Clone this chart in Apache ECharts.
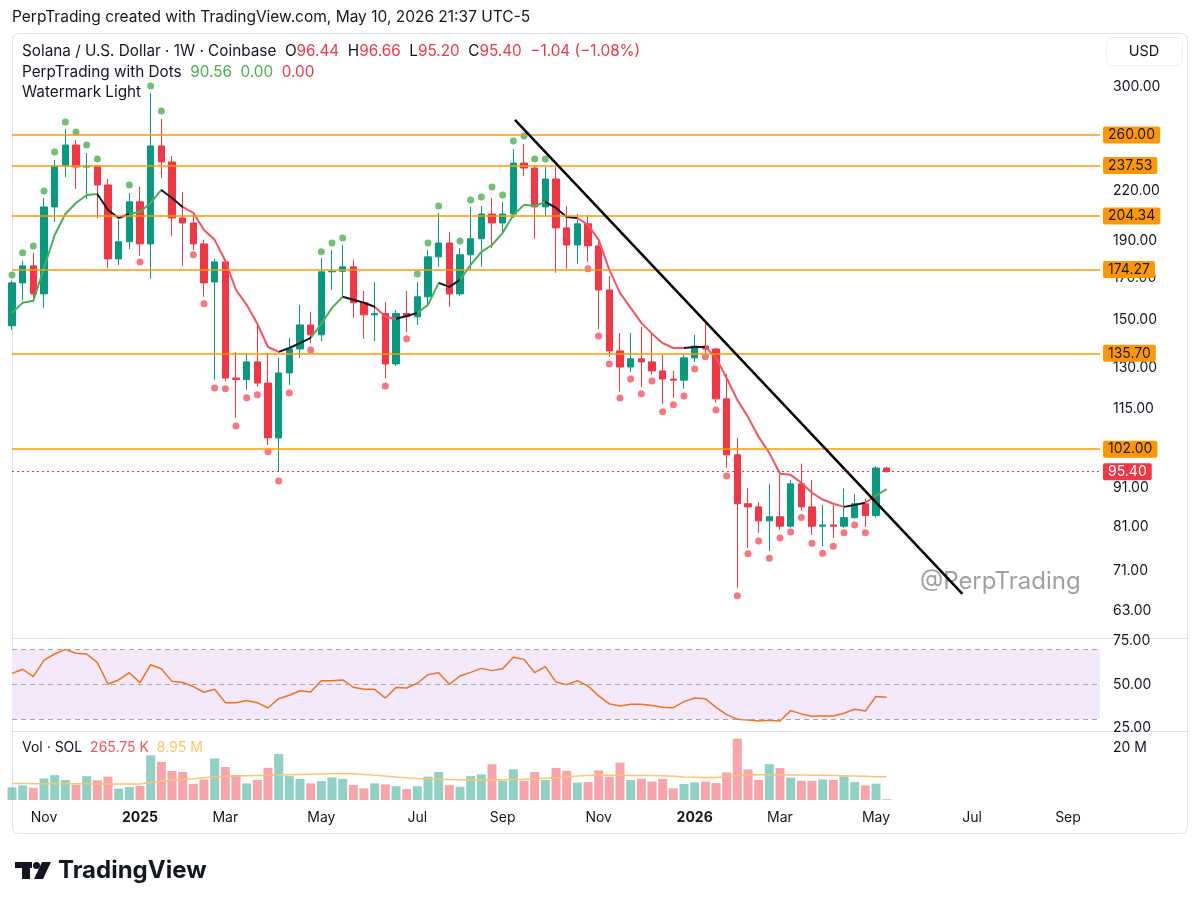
<!DOCTYPE html>
<html>
<head>
<meta charset="utf-8">
<title>SOLUSD 1W</title>
<script src="https://cdn.jsdelivr.net/npm/echarts@6/dist/echarts.min.js"></script>
<style>
  html, body { margin: 0; padding: 0; background: #fff; }
  #chart { width: 1200px; height: 907px; }
</style>
</head>
<body>
<div id="chart"></div>
<script>
var N = null;

// weekly candles, first bar = week of 2024-10-14
var opens = [147.3,167.4,176.1,162.0,209.9,237.1,252.4,236.4,237.1,224.1,
  179.8,189.2,213.1,188.0,251.7,240.0,203.1,200.1,188.0,167.9,
  178.2,126.1,125.5,132.3,124.2,105.5,128.0,137.5,147.7,143.4,
  173.0,173.3,175.6,157.8,152.2,152.8,131.5,152.8,151.3,160.6,
  180.9,188.5,162.0,182.0,190.9,205.5,200.1,205.5,239.2,235.7,
  209.9,228.1,197.2,187.4,199.6,186.9,163.9,136.7,130.3,133.5,
  132.3,128.8,125.7,125.3,133.9,138.7,137.5,118.5,100.3,86.7,
  85.9,82.4,83.4,81.1,92.0,85.9,81.1,81.4,81.1,83.2,
  86.7,83.7,96.44];
var highs = [168.5,178.8,183.1,215.6,241.4,264.7,256.2,246.5,238.0,228.1,
  201.9,218.8,222.8,294.7,272.8,244.3,219.5,206.2,190.3,179.8,
  179.8,136.2,135.9,148.6,135.9,134.0,142.1,156.8,153.6,180.4,
  184.6,187.4,179.3,163.4,167.9,158.2,154.5,163.4,167.9,184.6,
  206.2,194.8,185.7,209.9,210.5,215.6,213.1,249.4,253.2,237.8,
  236.4,236.4,210.5,205.5,204.9,189.7,170.9,144.2,144.2,146.8,
  144.6,135.1,128.8,135.5,143.4,148.6,137.9,127.6,105.5,90.9,
  87.2,92.0,94.5,93.1,97.7,93.1,86.4,86.4,90.7,89.3,
  88.0,97.0,96.66];
var lows = [145.5,159.2,158.2,155.4,200.7,229.5,221.5,214.9,203.1,175.1,
  176.6,185.2,181.4,169.4,228.8,192.6,176.1,184.6,160.6,125.4,
  124.9,112.0,121.7,122.8,103.3,95.4,123.5,133.9,140.0,140.8,
  163.9,160.6,150.8,141.7,140.8,126.1,130.7,144.6,147.7,156.8,
  175.6,155.9,161.1,173.5,175.6,185.7,194.3,203.1,230.2,190.9,
  204.3,172.5,174.6,177.2,178.2,145.9,134.3,121.0,128.4,122.8,
  127.3,116.7,118.8,122.1,132.3,135.9,117.1,96.5,67.5,76.0,
  79.5,75.3,80.2,80.7,84.9,79.0,76.4,78.3,80.7,83.0,
  80.9,83.2,95.20];
var closes = [167.4,176.1,162.0,209.9,237.1,252.4,236.4,237.1,224.1,179.8,
  189.2,213.1,188.0,251.7,240.0,203.1,200.1,188.0,167.4,178.2,
  126.1,125.5,132.3,124.2,105.5,128.0,137.5,147.7,143.4,173.0,
  173.3,175.6,157.8,152.2,152.8,131.5,152.8,151.3,160.6,180.9,
  188.5,162.0,182.0,190.9,205.5,200.1,205.5,239.2,235.7,209.9,
  228.1,197.2,187.4,199.6,186.9,163.9,136.7,130.3,133.5,132.3,
  128.8,125.7,125.3,133.9,138.7,137.5,118.5,100.3,86.7,85.9,
  82.4,83.4,81.1,92.0,85.9,81.1,81.4,81.1,83.2,86.7,
  83.7,96.44,95.40];

// "PerpTrading with Dots" trail line and its dots
var trail = [153.1,157.8,158.7,175.0,193.1,205.5,212.4,217.5,218.1,208.0,
  203.1,205.5,206.7,212.4,220.8,215.6,209.9,206.2,196.0,190.3,
  178.8,163.9,156.8,148.2,138.3,136.3,137.9,139.9,142.1,148.2,
  155.4,160.6,159.2,157.8,155.9,151.3,150.4,151.7,153.1,156.8,
  167.4,165.4,168.9,176.6,183.6,187.4,194.3,204.9,211.2,210.5,
  213.1,209.3,203.7,203.1,199.0,190.3,174.0,162.5,155.4,148.6,
  143.9,139.9,137.9,137.9,138.3,138.3,133.9,126.1,118.1,112.3,
  105.8,100.9,94.8,94.5,92.3,89.6,87.8,86.7,85.9,86.4,
  87.0,88.8,90.56];
// [from, to, trend] ranges of bar index for the trail colour
var trailSegments = [[0,8,'up'],[8,10.5,'flat'],[10.5,14,'up'],[14,16,'flat'],[16,24.5,'down'],
  [24.5,28,'flat'],[28,31,'up'],[31,34,'flat'],[34,36,'down'],[36,38,'flat'],[38,40,'up'],
  [40,42,'flat'],[42,50,'up'],[50,53,'flat'],[53,63,'down'],[63,65,'flat'],[65,78,'down'],
  [78,80,'flat'],[80,81,'down'],[81,83,'up']];
var dotsUp = [171.4,183.1,186.9,220.1,247.3,270.3,262.4,252.4,242.1,N,
  N,224.1,N,300.9,279.3,N,N,N,N,N,
  N,N,N,N,N,N,N,N,N,183.6,
  188.5,191.4,N,N,N,N,N,N,171.9,188.5,
  210.5,N,189.6,214.3,216.2,222.8,217.5,255.4,259.3,242.1,
  242.1,N,N,N,N,N,N,N,N,N,
  N,N,N,N,N,N,N,N,N,N,
  N,N,N,N,N,N,N,N,N,N,
  N,N,N];
var dotsDown = [N,N,N,N,N,N,N,N,N,N,
  N,N,178.2,N,N,N,N,182.0,157.3,122.4,
  122.1,109.3,118.9,120.0,101.2,92.8,120.6,N,137.1,N,
  N,N,N,N,N,123.1,N,141.7,N,N,
  N,N,N,N,N,N,N,N,N,N,
  N,N,N,N,174.6,142.9,131.5,118.8,125.7,120.3,
  125.0,114.0,116.4,119.5,129.5,134.3,114.6,94.2,65.9,74.7,
  77.6,73.7,78.3,79.7,83.2,77.1,74.8,76.4,79.5,81.4,
  79.5,N,N];

var rsi = [56.3,58.7,54.4,64.0,67.5,70.2,67.9,67.5,62.5,50.2,
  52.5,56.7,51.0,61.3,59.0,51.7,51.0,48.7,45.4,47.1,
  39.4,39.4,40.6,39.4,36.3,41.7,43.7,46.3,45.6,52.1,
  52.1,52.5,48.3,47.1,47.1,42.1,48.1,47.9,50.6,55.6,
  56.7,50.0,54.8,56.9,59.2,57.9,59.0,65.6,64.4,56.7,
  60.2,51.3,49.8,52.1,49.0,43.3,38.7,37.5,38.5,38.5,
  37.7,36.7,36.5,40.0,42.1,41.7,36.7,32.5,29.8,29.4,
  28.8,29.2,28.8,34.8,32.9,31.5,31.7,31.7,33.3,35.6,
  34.6,43.0,42.55];

// volume in millions of SOL and its moving average
var volume = [4.9,5.6,4.7,8.3,9.6,7.7,5.8,9.2,7.6,9.0,
  4.4,5.0,5.4,17.2,14.7,11.2,10.8,6.2,7.9,16.0,
  12.7,9.6,6.4,7.7,12.4,17.7,9.2,8.1,6.4,7.3,
  8.7,8.1,5.8,4.5,6.4,6.0,5.3,4.2,5.3,9.0,
  10.8,5.7,5.1,9.2,9.9,13.8,7.4,11.8,7.4,10.8,
  7.7,12.3,11.2,6.7,6.9,11.4,9.0,14.4,7.7,8.2,
  7.1,8.1,4.5,6.2,6.8,7.1,6.5,10.6,23.6,11.8,
  7.7,13.8,12.3,8.6,7.4,7.4,7.9,7.7,9.1,6.9,
  5.6,6.3,0.27];
var volumeMa = [6.4,6.4,6.3,6.3,6.3,6.3,6.3,6.3,6.2,6.2,
  6.2,6.2,6.2,6.8,7.2,7.6,7.9,8.2,8.6,9.0,
  9.1,9.2,9.3,9.4,9.5,9.6,9.7,9.8,9.9,10.0,
  10.1,10.1,10.1,9.8,9.5,9.2,8.9,8.6,8.3,8.1,
  7.9,7.9,7.8,7.7,7.7,7.7,7.8,7.9,8.0,8.2,
  8.4,8.6,8.9,9.2,9.4,9.5,9.5,9.5,9.4,9.4,
  9.4,9.3,9.1,8.9,8.8,8.7,8.7,9.0,9.5,9.6,
  9.7,9.7,9.7,9.6,9.6,9.5,9.5,9.4,9.3,9.2,
  9.1,9.0,8.95];

var levels = [260.00, 237.53, 204.34, 174.27, 135.70, 102.00];
var lastPrice = 95.40;
var priceTicks = [63, 71, 81, 91, 115, 130, 150, 170, 190, 220, 300];
var rsiTicks = [25, 50, 75];
var rsiBands = [70, 50, 30];
var volTicks = [20];
// trend line drawn on the chart: [bar index, price]
var trendLine = [[47.15, 272.0], [89.1, 66.3]];

var totalWeeks = 103;
var monthNames = ['Jan','Feb','Mar','Apr','May','Jun','Jul','Aug','Sep','Oct','Nov','Dec'];
var weeks = [];
for (var i = 0; i < totalWeeks; i++) {
  var d = new Date(Date.UTC(2024, 9, 14) + i * 7 * 86400000);
  weeks.push(d.toISOString().slice(0, 10));
}

var C = {
  up: '#089981', down: '#f23645', text: '#131722',
  trailUp: '#4caf50', trailDown: '#f7525f', trailFlat: '#131722',
  level: '#ff9800', volUp: 'rgba(8,153,129,0.45)', volDown: 'rgba(242,54,69,0.45)',
  rsi: '#f0731a', volMa: '#ffc46b', border: '#e0e3eb'
};
var FONT = 'Inter, Roboto, "Noto Sans", sans-serif';
var LEG = 15.3;

var candles = opens.map(function (o, k) { return [o, closes[k], lows[k], highs[k]]; });
var volBars = volume.map(function (v, k) {
  return { value: v, itemStyle: { color: closes[k] >= opens[k] ? C.volUp : C.volDown } };
});

var trendColor = { up: C.trailUp, down: C.trailDown, flat: C.trailFlat };
var pieces = trailSegments.map(function (s) {
  return { gte: s[0], lt: s[1], color: trendColor[s[2]] };
});

var levelLines = levels.map(function (v) {
  return {
    yAxis: v,
    lineStyle: { color: C.level, width: 1.5, type: 'solid' },
    label: {
      show: true, position: 'end', distance: 3, formatter: v.toFixed(2),
      color: C.text, backgroundColor: C.level, padding: [2, 5, 1, 5],
      fontSize: 14, fontFamily: FONT, borderRadius: 2
    }
  };
});

function yAxisBase(grid, extra) {
  var base = {
    gridIndex: grid, position: 'right', scale: true,
    splitLine: { show: false }, axisLine: { show: false }, axisTick: { show: false },
    axisLabel: { color: C.text, fontSize: 14, fontFamily: FONT, margin: 13 }
  };
  for (var k in extra) base[k] = extra[k];
  return base;
}

var hiddenCat = function (grid) {
  return {
    type: 'category', gridIndex: grid, data: weeks, boundaryGap: false,
    axisLine: { show: false }, axisTick: { show: false }, axisLabel: { show: false },
    splitLine: { show: false }
  };
};

var rsiLines = rsiBands.map(function (v) {
  return { yAxis: v, lineStyle: { color: '#a4a6b0', width: 1, type: [5, 4] }, label: { show: false } };
});

var chart = echarts.init(document.getElementById('chart'), null, { renderer: 'canvas' });

var option = {
  animation: false,
  backgroundColor: '#ffffff',
  textStyle: { fontFamily: FONT },
  grid: [
    { left: 12, right: 100, top: 37, height: 600 },
    { left: 12, right: 100, top: 640, height: 90 },
    { left: 12, right: 100, top: 733, height: 67 }
  ],
  xAxis: [
    hiddenCat(0),
    hiddenCat(1),
    {
      type: 'category', gridIndex: 2, data: weeks, boundaryGap: false,
      axisLine: { show: false }, axisTick: { show: false }, splitLine: { show: false },
      axisLabel: {
        margin: 11, color: C.text, fontSize: 14, fontFamily: FONT,
        interval: function (idx, val) {
          var d = new Date(val + 'T00:00:00Z');
          return d.getUTCDate() <= 7 && d.getUTCMonth() % 2 === 0;
        },
        formatter: function (val) {
          var d = new Date(val + 'T00:00:00Z');
          var m = d.getUTCMonth();
          return m === 0 ? '{y|' + d.getUTCFullYear() + '}' : monthNames[m];
        },
        rich: { y: { fontWeight: 'bold', fontSize: 14, color: C.text, fontFamily: FONT } }
      }
    },
    { type: 'value', gridIndex: 0, min: 0, max: totalWeeks - 1, show: false }
  ],
  yAxis: [
    yAxisBase(0, {
      type: 'log', logBase: 10, min: 58.3, max: 348.2,
      axisLabel: {
        color: C.text, fontSize: 14, fontFamily: FONT, margin: 13,
        customValues: priceTicks,
        formatter: function (v) { return Number(v).toFixed(2); }
      }
    }),
    yAxisBase(1, {
      type: 'value', min: 23.6, max: 75.6,
      axisLabel: {
        color: C.text, fontSize: 14, fontFamily: FONT, margin: 13,
        customValues: rsiTicks,
        formatter: function (v) { return Number(v).toFixed(2); }
      }
    }),
    yAxisBase(2, {
      type: 'value', min: 0, max: 25.8,
      axisLabel: {
        color: C.text, fontSize: 14, fontFamily: FONT, margin: 13,
        customValues: volTicks,
        formatter: function (v) { return v + ' M'; }
      }
    })
  ],
  visualMap: [{
    type: 'piecewise', show: false, dimension: 0, seriesIndex: 1, pieces: pieces
  }],
  series: [
    {
      name: 'SOLUSD', type: 'candlestick', xAxisIndex: 0, yAxisIndex: 0,
      data: candles, barWidth: 7,
      itemStyle: {
        color: C.up, color0: C.down, borderColor: C.up, borderColor0: C.down, borderWidth: 1
      },
      markLine: { silent: true, symbol: ['none', 'none'], data: levelLines }
    },
    {
      name: 'Trail', type: 'line', xAxisIndex: 0, yAxisIndex: 0, data: trail,
      showSymbol: false, smooth: false, lineStyle: { width: 2 }
    },
    {
      name: 'DotsUp', type: 'scatter', xAxisIndex: 0, yAxisIndex: 0, data: dotsUp,
      symbolSize: 7, itemStyle: { color: C.trailUp }
    },
    {
      name: 'DotsDown', type: 'scatter', xAxisIndex: 0, yAxisIndex: 0, data: dotsDown,
      symbolSize: 7, itemStyle: { color: C.trailDown },
      // last price line, dotted red
      markLine: {
        silent: true, symbol: ['none', 'none'],
        lineStyle: { color: C.down, width: 1.2, type: [2, 3], opacity: 1 },
        label: {
          show: true, position: 'end', distance: 3, formatter: lastPrice.toFixed(2),
          color: '#fff', backgroundColor: C.down, padding: [2, 5, 1, 5],
          fontSize: 14, fontFamily: FONT, borderRadius: 2
        },
        data: [{ yAxis: lastPrice }]
      }
    },
    {
      name: 'RSI', type: 'line', xAxisIndex: 1, yAxisIndex: 1, data: rsi,
      showSymbol: false, lineStyle: { color: C.rsi, width: 1.5 },
      markArea: {
        silent: true, itemStyle: { color: '#f4e8fb' },
        data: [[{ yAxis: rsiBands[2] }, { yAxis: rsiBands[0] }]]
      },
      markLine: { silent: true, symbol: ['none', 'none'], data: rsiLines }
    },
    {
      name: 'Volume', type: 'bar', xAxisIndex: 2, yAxisIndex: 2, data: volBars, barWidth: 9
    },
    {
      name: 'VolMA', type: 'line', xAxisIndex: 2, yAxisIndex: 2, data: volumeMa,
      showSymbol: false, lineStyle: { color: C.volMa, width: 1.5 }
    },
    {
      name: 'Trend', type: 'line', xAxisIndex: 3, yAxisIndex: 0, data: trendLine,
      showSymbol: false, lineStyle: { color: '#000000', width: 2.5 }, z: 5
    }
  ],
  graphic: [
    { type: 'rect', silent: true, shape: { x: 12.5, y: 33.5, width: 1175, height: 800, r: 6 },
      style: { fill: 'none', stroke: C.border, lineWidth: 1 } },
    { type: 'line', silent: true, shape: { x1: 12, y1: 638.5, x2: 1188, y2: 638.5 },
      style: { stroke: C.border, lineWidth: 1 } },
    { type: 'line', silent: true, shape: { x1: 12, y1: 731.5, x2: 1188, y2: 731.5 },
      style: { stroke: C.border, lineWidth: 1 } },
    { type: 'text', x: 12, y: 17, silent: true,
      style: { text: 'PerpTrading created with TradingView.com, May 10, 2026 21:37 UTC-5',
        fill: C.text, fontSize: 15.5, fontFamily: FONT, verticalAlign: 'middle' } },
    { type: 'text', x: 22, y: 51, silent: true,
      style: {
        text: '{k|Solana / U.S. Dollar · 1W · Coinbase}  {k|O}{r|96.44}  {k|H}{r|96.66}  {k|L}{r|95.20}  {k|C}{r|95.40}  {r|−1.04 (−1.08%)}',
        fontSize: LEG, fontFamily: FONT, verticalAlign: 'middle',
        rich: { k: { fill: C.text, fontSize: LEG, fontFamily: FONT }, r: { fill: C.down, fontSize: LEG, fontFamily: FONT } }
      } },
    { type: 'text', x: 22, y: 72, silent: true,
      style: {
        text: '{k|PerpTrading with Dots}  {g|90.56}  {g|0.00}  {r|0.00}',
        fontSize: LEG, fontFamily: FONT, verticalAlign: 'middle',
        rich: { k: { fill: C.text, fontSize: LEG, fontFamily: FONT }, g: { fill: C.trailUp, fontSize: LEG, fontFamily: FONT },
          r: { fill: C.down, fontSize: LEG, fontFamily: FONT } }
      } },
    { type: 'text', x: 22, y: 92, silent: true,
      style: { text: 'Watermark Light', fill: C.text, fontSize: LEG, fontFamily: FONT, verticalAlign: 'middle' } },
    { type: 'rect', silent: true, shape: { x: 1106.5, y: 37.5, width: 76, height: 28, r: 6 },
      style: { fill: '#fff', stroke: '#eef0f3', lineWidth: 1 } },
    { type: 'text', x: 1144, y: 52, silent: true,
      style: { text: 'USD', fill: C.text, fontSize: 14.5, fontFamily: FONT, align: 'center', verticalAlign: 'middle' } },
    { type: 'text', x: 920, y: 582, silent: true, z: -1,
      style: { text: '@PerpTrading', fill: 'rgba(120,120,120,0.7)', fontSize: 24, fontFamily: FONT, verticalAlign: 'middle' } },
    { type: 'text', x: 22, y: 658, silent: true,
      style: {
        text: '{k|RSI}  {o|42.55}  {k|⌀  ⌀}',
        fontSize: 14, fontFamily: FONT, verticalAlign: 'middle',
        rich: { k: { fill: C.text, fontSize: 14, fontFamily: FONT }, o: { fill: C.rsi, fontSize: 14, fontFamily: FONT } }
      } },
    { type: 'text', x: 22, y: 748, silent: true,
      style: {
        text: '{k|Vol · SOL}  {r|265.75 K}  {y|8.95 M}',
        fontSize: 14, fontFamily: FONT, verticalAlign: 'middle',
        rich: { k: { fill: C.text, fontSize: 14, fontFamily: FONT }, r: { fill: C.trailDown, fontSize: 14, fontFamily: FONT },
          y: { fill: C.volMa, fontSize: 14, fontFamily: FONT } }
      } },
    // TradingView logo
    { type: 'rect', silent: true, shape: { x: 15, y: 862, width: 17, height: 6 }, style: { fill: C.text } },
    { type: 'rect', silent: true, shape: { x: 22, y: 862, width: 8, height: 17 }, style: { fill: C.text } },
    { type: 'circle', silent: true, shape: { cx: 36.5, cy: 865.5, r: 3.5 }, style: { fill: C.text } },
    { type: 'polygon', silent: true, shape: { points: [[42, 862], [51, 862], [43, 879], [34, 879]] }, style: { fill: C.text } },
    { type: 'text', x: 58, y: 871, silent: true,
      style: { text: 'TradingView', fill: C.text, fontSize: 24, fontWeight: 'bold', fontFamily: FONT, verticalAlign: 'middle' } }
  ]
};

chart.setOption(option);
</script>
</body>
</html>
